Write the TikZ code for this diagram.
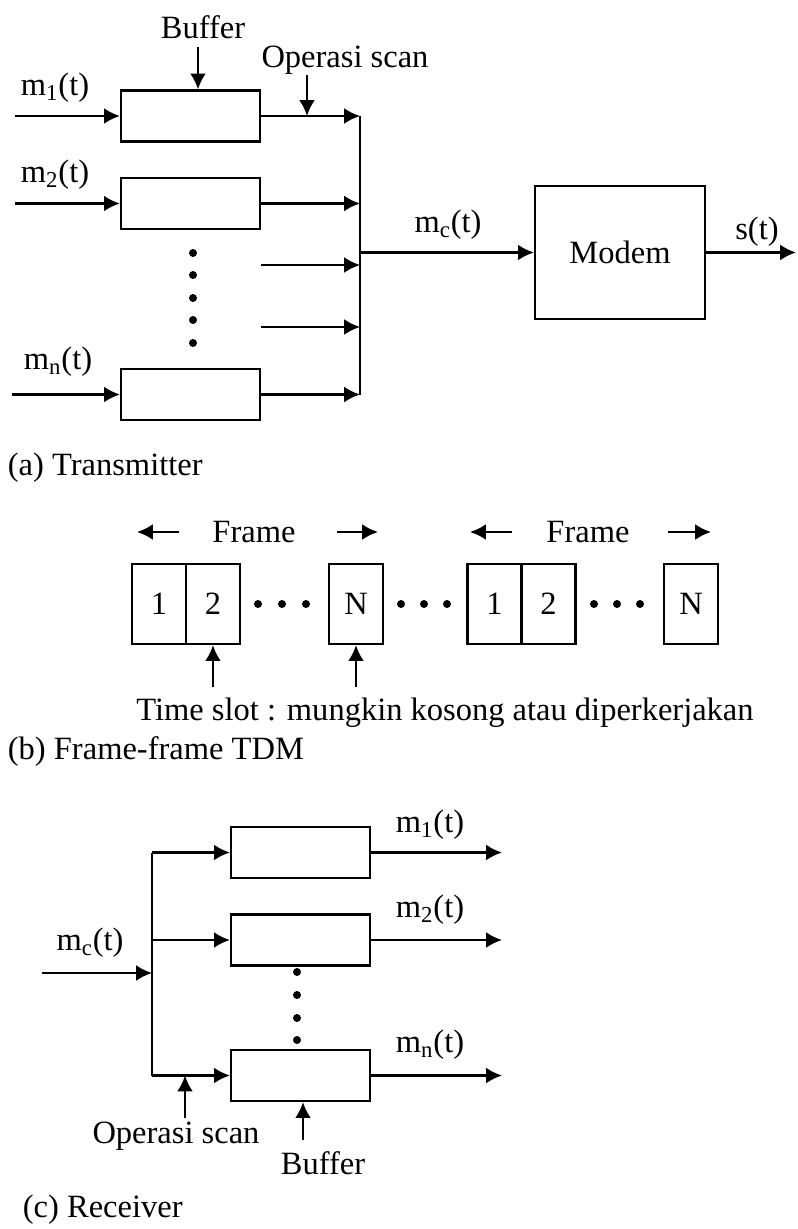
\documentclass[tikz,border=0pt]{standalone}
\usepackage{fontspec}
\setmainfont{Liberation Serif}
\usetikzlibrary{arrows.meta,positioning}

\begin{document}
\begin{tikzpicture}[x=0.02cm,y=-0.02cm,line width=1.3pt,>={Latex[length=9pt,width=9pt]},
  font=\fontsize{18.5}{22}\selectfont,
  buf/.style={draw,minimum width=2.78cm,minimum height=1.02cm,inner sep=0pt},
  slot/.style={draw,minimum width=1.08cm,minimum height=1.6cm,inner sep=0pt},
  lbl/.style={inner sep=1pt}]
  \useasboundingbox (0,0) rectangle (797,1229);

  % (a) transmitter
  \node[buf] (b1) at (190.5,116) {};
  \node[buf] (b2) at (190.5,203.5) {};
  \node[buf] (bn) at (190.5,394.5) {};
  \node[draw,minimum width=3.4cm,minimum height=2.66cm] (modem) at (620,252.5) {Modem};
  \coordinate (ia1) at (15,116);
  \coordinate (ia2) at (15,203.5);
  \coordinate (ian) at (12,394.5);
  \coordinate (bus) at (360,116);
  \coordinate (k3) at (261,265);
  \coordinate (k4) at (261,327);
  \coordinate (sout) at (796,252.5);
  \draw[->] (ia1) -- (b1);
  \draw[->] (ia2) -- (b2);
  \draw[->] (ian) -- (bn);
  \draw (bus) -- (bn.east -| bus);
  \draw[->] (b1) -- (b1.east -| bus);
  \draw[->] (b2) -- (b2.east -| bus);
  \draw[->] (k3) -- (k3 -| bus);
  \draw[->] (k4) -- (k4 -| bus);
  \draw[->] (bn) -- (bn.east -| bus);
  \draw[->] (modem.west -| bus) -- (modem);
  \draw[->] (modem) -- (sout);
  \foreach \y in {253,275,298,320,343}
    \fill (193,\y) circle (0.08cm);
  \node[lbl] (ma1) at (55,88) {m\textsubscript{1}(t)};
  \node[lbl] (ma2) at (55,175) {m\textsubscript{2}(t)};
  \node[lbl] (man) at (58,362) {m\textsubscript{n}(t)};
  \node[lbl] (mac) at (448,225) {m\textsubscript{c}(t)};
  \node[lbl] (st) at (757,232) {s(t)};
  \node[lbl] (bufa) at (203,27) {Buffer};
  \node[lbl] (opa) at (345,60) {Operasi scan};
  \coordinate (bufarr) at (198,47);
  \coordinate (oparr) at (307,75);
  \draw[->] (bufarr) -- (bufarr |- b1.north);
  \draw[->] (oparr) -- (oparr |- b1.east);
  \node[lbl,anchor=west] (capa) at (5,468) {(a) Transmitter};

  % (b) frames
  \node[slot] (s1) at (159,604) {1};
  \node[slot,right=-1.3pt of s1] (s2) {2};
  \node[slot] (n1) at (356,604) {N};
  \node[slot] (s3) at (494.5,604) {1};
  \node[slot,right=-1.3pt of s3] (s4) {2};
  \node[slot] (n2) at (691,604) {N};
  \foreach \x in {258,282,306,401,424,447,594,617,640}
    \fill (\x,604) circle (0.08cm);
  \node[lbl] (f1) at (254,532) {Frame};
  \node[lbl] (f2) at (588,532) {Frame};
  \draw[->] (179,532) coordinate (fa) -- (137,532) coordinate (fb);
  \draw[->] (337,532) coordinate (fc) -- (378,532) coordinate (fd);
  \draw[->] (512,532) coordinate (fe) -- (470,532) coordinate (ff);
  \draw[->] (668,532) coordinate (fg) -- (711,532) coordinate (fh);
  \node[lbl] (ts) at (445,713) {Time slot : mungkin kosong atau diperkerjakan};
  \coordinate (tsa) at (0,687);
  \draw[->] (s2.south |- tsa) -- (s2.south);
  \draw[->] (n1.south |- tsa) -- (n1.south);
  \node[lbl,anchor=west] (capb) at (5,752) {(b) Frame-frame TDM};

  % (c) receiver
  \node[buf] (r1) at (300.5,852.5) {};
  \node[buf] (r2) at (300.5,940) {};
  \node[buf] (rn) at (300.5,1075.5) {};
  \coordinate (ci) at (42,973);
  \coordinate (cb) at (152,973);
  \coordinate (oe) at (502,0);
  \draw[->] (ci) -- (cb);
  \draw (r1.west -| cb) -- (rn.west -| cb);
  \draw[->] (r1.west -| cb) -- (r1);
  \draw[->] (r2.west -| cb) -- (r2);
  \draw[->] (rn.west -| cb) -- (rn);
  \draw[->] (r1) -- (r1.east -| oe);
  \draw[->] (r2) -- (r2.east -| oe);
  \draw[->] (rn) -- (rn.east -| oe);
  \foreach \y in {972,995,1018,1040}
    \fill (297,\y) circle (0.08cm);
  \node[lbl] (mcc) at (90,943) {m\textsubscript{c}(t)};
  \node[lbl] (mr1) at (430,825) {m\textsubscript{1}(t)};
  \node[lbl] (mr2) at (430,910) {m\textsubscript{2}(t)};
  \node[lbl] (mrn) at (430,1045) {m\textsubscript{n}(t)};
  \coordinate (opb) at (185,1118);
  \coordinate (bfb) at (303,1140);
  \draw[->] (opb) -- (opb |- rn.west);
  \draw[->] (bfb) -- (bfb |- rn.south);
  \node[lbl] (opc) at (176,1136) {Operasi scan};
  \node[lbl] (bufc) at (323,1163) {Buffer};
  \node[lbl,anchor=west] (capc) at (20,1210) {(c) Receiver};
\end{tikzpicture}
\end{document}
